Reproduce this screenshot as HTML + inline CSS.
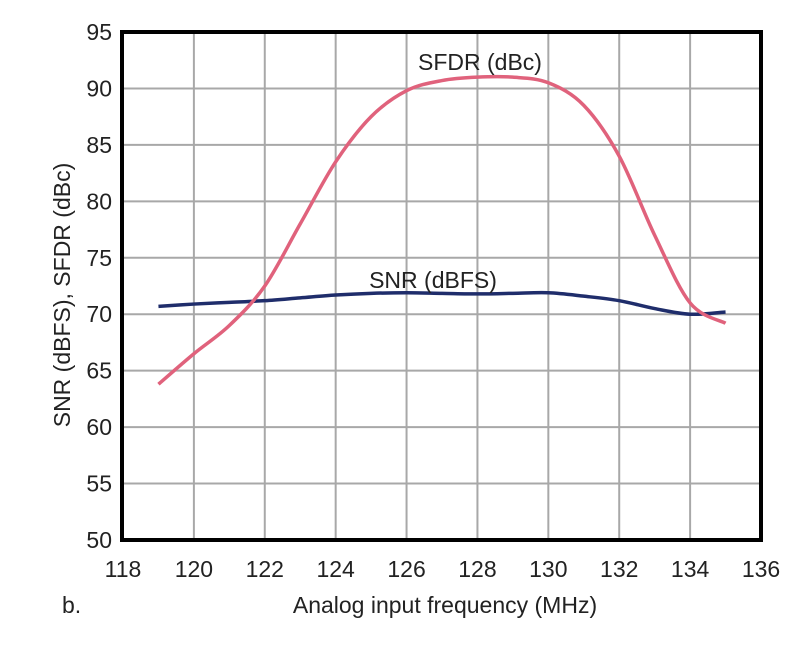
<!DOCTYPE html>
<html><head><meta charset="utf-8"><style>
body{margin:0;background:#fff;}
svg text{font-family:"Liberation Sans",sans-serif;fill:#222;}
</style></head><body>
<svg id="chart" width="800" height="642" xmlns="http://www.w3.org/2000/svg">
<g id="grid"></g>
<g id="series"></g>
<rect x="122" y="32" width="639" height="508" fill="none" stroke="#000" stroke-width="4"/>
<g id="ticks"></g>
<text transform="translate(70,295) rotate(-90)" text-anchor="middle" font-size="23">SNR (dBFS), SFDR (dBc)</text>
<text x="445" y="613" text-anchor="middle" font-size="23">Analog input frequency (MHz)</text>
<text x="62" y="613" font-size="23">b.</text>
<text x="480" y="70" text-anchor="middle" font-size="23">SFDR (dBc)</text>
<text x="433" y="288" text-anchor="middle" font-size="23">SNR (dBFS)</text>
</svg>
<script>
const xTicks=[118,120,122,124,126,128,130,132,134,136];
const yTicks=[50,55,60,65,70,75,80,85,90,95];
const freq=[119,120,121,122,123,124,125,126,127,128,129,130,131,132,133,134,135];
const sfdr=[63.8,66.5,69,72.5,78,83.5,87.5,89.8,90.7,91,91,90.5,88.5,84,77,71,69.2];
const snr=[70.7,70.9,71.05,71.2,71.45,71.7,71.85,71.9,71.85,71.8,71.85,71.9,71.6,71.2,70.5,70.0,70.2];
const NS="http://www.w3.org/2000/svg";
const X=v=>123+(v-118)*(761-123)/18;
const Y=v=>540-(v-50)*(540-32)/45;
const grid=document.getElementById('grid'),ticks=document.getElementById('ticks'),ser=document.getElementById('series');
xTicks.forEach(t=>{
 const l=document.createElementNS(NS,'line');
 
 
 l.setAttribute('x1',X(t));l.setAttribute('x2',X(t));l.setAttribute('y1',Y(50));l.setAttribute('y2',Y(95));
 l.setAttribute('stroke','#a8a8a8');l.setAttribute('stroke-width','2');grid.appendChild(l);
 const tx=document.createElementNS(NS,'text');
 
 
 tx.setAttribute('x',X(t));tx.setAttribute('y',577);tx.setAttribute('text-anchor','middle');tx.setAttribute('font-size','23');
 tx.textContent=t;ticks.appendChild(tx);
});
yTicks.forEach(t=>{
 const l=document.createElementNS(NS,'line');
 
 
 l.setAttribute('x1',X(118));l.setAttribute('x2',X(136));l.setAttribute('y1',Y(t));l.setAttribute('y2',Y(t));
 l.setAttribute('stroke','#a8a8a8');l.setAttribute('stroke-width','2');grid.appendChild(l);
 const tx=document.createElementNS(NS,'text');
 
 
 tx.setAttribute('x',112);tx.setAttribute('y',Y(t)+8);tx.setAttribute('text-anchor','end');tx.setAttribute('font-size','23');
 tx.textContent=t;ticks.appendChild(tx);
});
function smooth(vals){
 const p=freq.map((f,i)=>[X(f),Y(vals[i])]);
 let d='M'+p[0][0]+','+p[0][1];
 for(let i=0;i<p.length-1;i++){
  const p0=p[i-1]||p[i],p1=p[i],p2=p[i+1],p3=p[i+2]||p2;
  const c1=[p1[0]+(p2[0]-p0[0])/6,p1[1]+(p2[1]-p0[1])/6],c2=[p2[0]-(p3[0]-p1[0])/6,p2[1]-(p3[1]-p1[1])/6];
  d+=' C'+c1+' '+c2+' '+p2;
 }
 return d;
}
const s1=document.createElementNS(NS,'path');


s1.setAttribute('d',smooth(snr));s1.setAttribute('fill','none');s1.setAttribute('stroke','#1f2d6b');s1.setAttribute('stroke-width','3.5');
ser.appendChild(s1);
const s2=document.createElementNS(NS,'path');


s2.setAttribute('d',smooth(sfdr));s2.setAttribute('fill','none');s2.setAttribute('stroke','#e0627c');s2.setAttribute('stroke-width','3.5');
ser.appendChild(s2);
</script>
</body></html>
